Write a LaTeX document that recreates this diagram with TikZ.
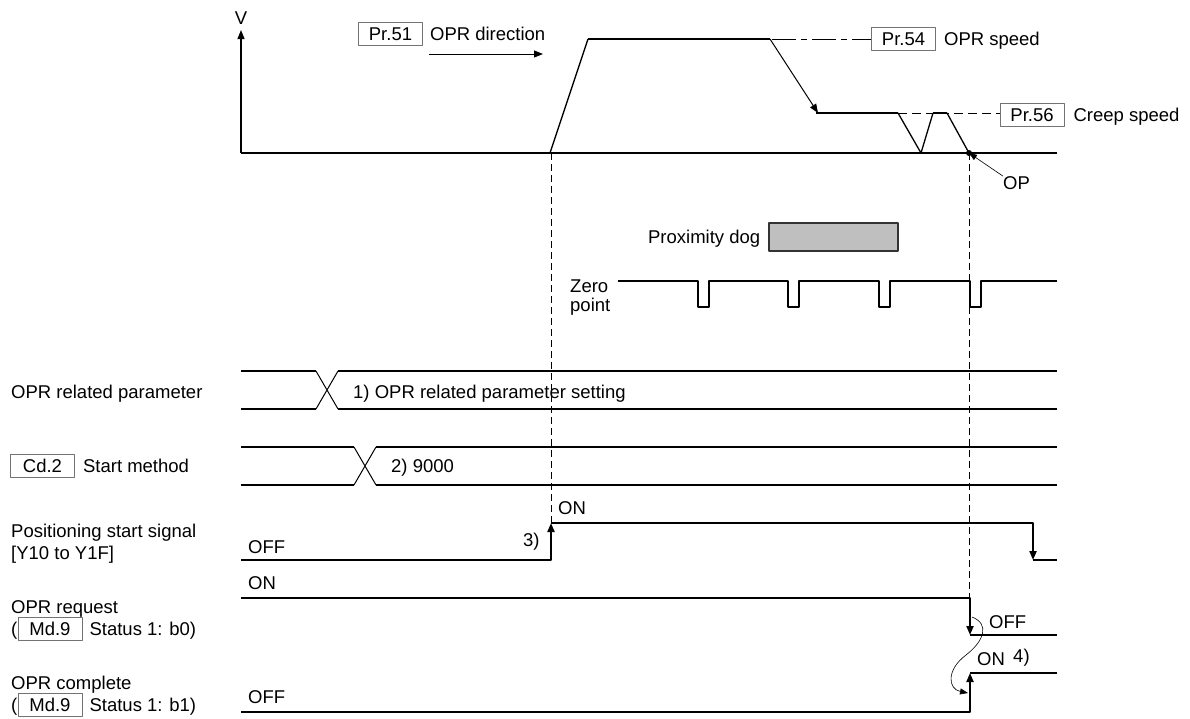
\documentclass[tikz,border=0pt]{standalone}
\usepackage{fontspec}
\setmainfont{Liberation Sans}
\usetikzlibrary{positioning,arrows.meta}

\begin{document}
\begin{tikzpicture}[x=1pt,y=-1pt,line join=round,
  txt/.style={inner sep=0pt,font=\fontsize{18.5}{22}\selectfont,text height=13.3pt,text depth=0pt},
  prm/.style={txt,draw=black!55,line width=0.8pt,minimum width=64pt,minimum height=23pt},
  sig/.style={line width=2pt},
  arr/.style={-{Triangle[length=9pt,width=7pt]}},
  guide/.style={line width=0.8pt,dash pattern=on 7pt off 4pt}]
\useasboundingbox (0,0) rectangle (1190,718);
% speed axes
\coordinate (org) at (241,153);
\draw[line width=1.2pt,arr] (org) -- (241,30) node[txt,above=5pt] (v) {V};
\draw[line width=1.2pt] (org) -- (1057,153);
% OPR direction
\node[prm] (pr51) at (390.5,34) {Pr.51};
\node[txt,right=7pt of pr51] (dir) {OPR direction};
\coordinate (d1) at (429,54);
\coordinate (d2) at (543,54);
\draw[line width=1pt,arr] (d1) -- (d2);
% speed profile
\draw[line width=1.3pt] (550,153) -- (588,39);
\draw[sig] (588,39) -- (770,39);
\draw[line width=1pt,arr] (770,39) -- (818,113);
\draw[sig] (816,113) -- (898,113);
\draw[line width=1.3pt] (898,113) -- (921,153) -- (933,113);
\draw[sig] (933,113) -- (947,113);
\draw[line width=1.3pt] (947,113) -- (969,153);
% speed parameters
\node[prm] (pr54) at (903.5,39) {Pr.54};
\node[txt,right=8pt of pr54] (spd) {OPR speed};
\draw[line width=0.8pt,dash pattern=on 24pt off 5pt on 6pt off 5pt] (772,39) -- (pr54.west);
\node[prm] (pr56) at (1032,114.5) {Pr.56};
\node[txt,right=9pt of pr56] (crp) {Creep speed};
\draw[line width=0.8pt,dash pattern=on 9pt off 5pt] (898,113) -- (pr56.west |- 0,113);
% OP
\coordinate (opdot) at (969,153);
\fill (opdot) circle (3pt);
\node[txt,anchor=west] (op) at (1003,183) {OP};
\draw[line width=0.6pt,-{Triangle[length=8pt,width=6pt]}] (op.north west) -- (opdot);
% guide lines
\draw[guide] (551,153) -- (551,523);
\draw[guide] (969,153) -- (969,598);
% proximity dog, zero point
\node[draw=black!80,fill=black!25,line width=1.2pt,minimum width=129pt,minimum height=28pt,inner sep=0pt] (dog) at (833.5,237) {};
\node[txt,left=8pt of dog] (doglbl) {Proximity dog};
\node[txt,anchor=west] (zero) at (570,286) {Zero};
\node[txt,anchor=west] (point) at (570,305) {point};
\draw[sig] (618,281) foreach \p in {698,788,879,970} {-- (\p,281) -- (\p,307) -- (\p+11,307) -- (\p+11,281)} -- (1057,281);
% signal names
\node[txt,anchor=west] (n1) at (11,392) {OPR related parameter};
\node[prm] (cd2) at (42.5,466) {Cd.2};
\node[txt,right=8pt of cd2] (n2) {Start method};
\node[txt,anchor=west] (n3) at (11,531) {Positioning start signal};
\node[txt,anchor=west] (n3b) at (11,553) {[Y10 to Y1F]};
\node[txt,anchor=west] (n4) at (11,607) {OPR request};
\node[txt,anchor=west] (n4a) at (11,629) {(};
\node[prm,right=0pt of n4a] (md9a) {Md.9};
\node[txt,right=7pt of md9a] (n4b) {Status 1: b0)};
\node[txt,anchor=west] (n5) at (11,683) {OPR complete};
\node[txt,anchor=west] (n5a) at (11,705) {(};
\node[prm,right=0pt of n5a] (md9b) {Md.9};
\node[txt,right=7pt of md9b] (n5b) {Status 1: b1)};
% data rows
\foreach \ya/\yb/\xc in {371/409/316, 447/485/354} {
  \draw[sig] (241,\ya) -- (\xc,\ya) (241,\yb) -- (\xc,\yb);
  \draw[sig] (\xc+22,\ya) -- (1057,\ya) (\xc+22,\yb) -- (1057,\yb);
  \draw[line width=1pt] (\xc,\ya) -- (\xc+22,\yb) (\xc,\yb) -- (\xc+22,\ya);
}
\node[txt,anchor=west] (v1) at (353,392) {1) OPR related parameter setting};
\node[txt,anchor=west] (v2) at (391,466) {2) 9000};
% positioning start signal
\draw[sig,arr] (241,560) -- (551,560) -- (551,523);
\draw[sig,arr] (551,523) -- (1033,523) -- (1033,560);
\draw[sig] (1033,560) -- (1057,560);
\node[txt,anchor=west] (off1) at (248,547) {OFF};
\node[txt,anchor=west] (on1) at (558,508) {ON};
\node[txt,anchor=west] (s3) at (523,540) {3)};
% OPR request
\coordinate (rq) at (970,635);
\draw[sig,arr] (241,598) -- (970,598) -- (rq);
\draw[sig] (rq) -- (1057,635);
\node[txt,anchor=west] (on2) at (248,583) {ON};
\node[txt,anchor=west] (off2) at (989,622) {OFF};
% OPR complete
\coordinate (cp) at (970,673);
\draw[sig,arr] (241,712) -- (970,712) -- (cp);
\draw[sig] (cp) -- (1057,673);
\node[txt,anchor=west] (off3) at (248,697) {OFF};
\node[txt,anchor=west] (on3) at (977,659) {ON};
\node[txt,anchor=west] (s4) at (1013,656) {4)};
\coordinate (c1) at (972,617);
\coordinate (c2) at (968,693);
\draw[line width=0.6pt,-{Triangle[length=8pt,width=6pt]}] (c1) .. controls (990,624) and (984,641) .. (966,655) .. controls (946,670) and (948,689) .. (c2);
\end{tikzpicture}
\end{document}
